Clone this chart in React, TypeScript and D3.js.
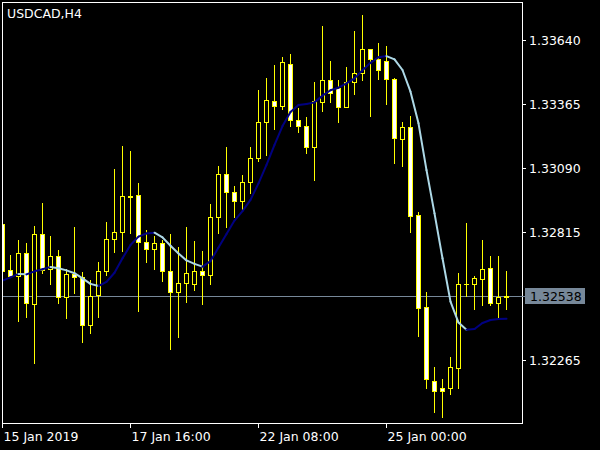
import React from 'react';
import * as d3 from 'd3';

const symbolLabel = 'USDCAD,H4';

const opens = [
  1.32848, 1.32650, 1.32626, 1.32723, 1.32504, 1.32805, 1.32655, 1.32711, 1.32534, 1.32633,
  1.32620, 1.32417, 1.32543, 1.32646, 1.32784, 1.32814, 1.32968, 1.32973, 1.32771, 1.32741,
  1.32766, 1.32646, 1.32556, 1.32595, 1.32593, 1.32647, 1.32629, 1.32878, 1.33063, 1.32988,
  1.32947, 1.33029, 1.33132, 1.33286, 1.33377, 1.33355, 1.33536, 1.33295, 1.33269, 1.33182,
  1.33375, 1.33467, 1.33434, 1.33351, 1.33458, 1.33497, 1.33601, 1.33557, 1.33550, 1.33474,
  1.33216, 1.33265, 1.32888, 1.32493, 1.32175, 1.32143, 1.32143, 1.32232, 1.32592, 1.32590,
  1.32612, 1.32659, 1.32511, 1.32536,
];
const highs = [
  1.32875, 1.32716, 1.32781, 1.32766, 1.32841, 1.32938, 1.32798, 1.32738, 1.32656, 1.32838,
  1.32644, 1.32609, 1.32687, 1.32858, 1.33086, 1.33185, 1.33163, 1.33027, 1.32824, 1.32798,
  1.32781, 1.32805, 1.32749, 1.32835, 1.32778, 1.32733, 1.32935, 1.33099, 1.33180, 1.33013,
  1.33060, 1.33180, 1.33425, 1.33477, 1.33533, 1.33566, 1.33580, 1.33347, 1.33309, 1.33460,
  1.33700, 1.33550, 1.33468, 1.33523, 1.33679, 1.33747, 1.33603, 1.33626, 1.33614, 1.33477,
  1.33288, 1.33313, 1.32901, 1.32557, 1.32234, 1.32183, 1.32278, 1.32639, 1.32852, 1.32626,
  1.32781, 1.32712, 1.32712, 1.32647,
];
const lows = [
  1.32617, 1.32624, 1.32434, 1.32451, 1.32253, 1.32638, 1.32592, 1.32509, 1.32444, 1.32552,
  1.32344, 1.32382, 1.32451, 1.32632, 1.32729, 1.32735, 1.32812, 1.32477, 1.32687, 1.32657,
  1.32606, 1.32311, 1.32365, 1.32516, 1.32566, 1.32506, 1.32592, 1.32812, 1.32838, 1.32881,
  1.32914, 1.32984, 1.33121, 1.33146, 1.33258, 1.33342, 1.33272, 1.33243, 1.33153, 1.33038,
  1.33335, 1.33375, 1.33286, 1.33350, 1.33409, 1.33468, 1.33315, 1.33472, 1.33366, 1.33113,
  1.33099, 1.32816, 1.32368, 1.32146, 1.32043, 1.32021, 1.32119, 1.32146, 1.32540, 1.32485,
  1.32503, 1.32503, 1.32440, 1.32483,
];
const closes = [
  1.32649, 1.32626, 1.32723, 1.32509, 1.32805, 1.32652, 1.32711, 1.32534, 1.32633, 1.32620,
  1.32414, 1.32539, 1.32646, 1.32784, 1.32814, 1.32968, 1.32966, 1.32771, 1.32741, 1.32766,
  1.32646, 1.32556, 1.32595, 1.32638, 1.32646, 1.32629, 1.32878, 1.33063, 1.32988, 1.32947,
  1.33029, 1.33132, 1.33286, 1.33381, 1.33355, 1.33544, 1.33295, 1.33269, 1.33182, 1.33378,
  1.33467, 1.33414, 1.33350, 1.33458, 1.33497, 1.33601, 1.33557, 1.33510, 1.33474, 1.33219,
  1.33265, 1.32885, 1.32490, 1.32182, 1.32132, 1.32132, 1.32234, 1.32590, 1.32591, 1.32616,
  1.32655, 1.32511, 1.32537, 1.32538,
];
const maValues = [
  1.32606, 1.32620, 1.32635, 1.32633, 1.32646, 1.32655, 1.32665, 1.32659, 1.32650, 1.32638,
  1.32616, 1.32592, 1.32583, 1.32601, 1.32640, 1.32702, 1.32759, 1.32795, 1.32809, 1.32812,
  1.32792, 1.32756, 1.32723, 1.32693, 1.32678, 1.32666, 1.32690, 1.32748, 1.32806, 1.32864,
  1.32905, 1.32953, 1.33024, 1.33103, 1.33189, 1.33270, 1.33331, 1.33361, 1.33365, 1.33372,
  1.33401, 1.33424, 1.33435, 1.33454, 1.33475, 1.33510, 1.33542, 1.33566, 1.33571, 1.33557,
  1.33511, 1.33418, 1.33282, 1.33081, 1.32895, 1.32702, 1.32516, 1.32426, 1.32395, 1.32398,
  1.32424, 1.32437, 1.32441, 1.32442,
];
const priceTicks = [1.3364, 1.33365, 1.3309, 1.32815, 1.32265];
const timeTickIndex = [0, 16, 32, 48];
const timeTickLabels = ['15 Jan 2019', '17 Jan 16:00', '22 Jan 08:00', '25 Jan 00:00'];
const lastPrice = 1.32538;

const W = 600;
const H = 450;
const FONT = '"DejaVu Sans", sans-serif';

export default function App() {
  const x = d3.scaleLinear().domain([0, opens.length - 1]).range([2.5, 2.5 + 8 * (opens.length - 1)]);
  const y = d3.scaleLinear().domain([1.32265, 1.3364]).range([360, 40]);
  const py = (v: number) => Math.round(y(v)) + 0.5;

  const line = d3.line<[number, number]>().x((d) => d[0]).y((d) => d[1]);
  const maSegs = maValues.slice(1).map((v, j) => {
    const i = j + 1;
    const rising = v >= maValues[i - 1];
    return {
      d: line([
        [x(i - 1), y(maValues[i - 1])],
        [x(i), y(v)],
      ]) as string,
      color: rising ? '#000080' : '#ADD8E6',
    };
  });

  const lastY = py(lastPrice);

  return (
    <svg
      width={W}
      height={H}
      style={{ position: 'absolute', left: 0, top: 0, display: 'block', background: '#000' }}
      fontFamily={FONT}
    >
      <rect x={0} y={0} width={W} height={H} fill="#000" />
      <defs>
        <clipPath id="plot">
          <rect x={2} y={2} width={520} height={421} />
        </clipPath>
      </defs>
      <g clipPath="url(#plot)">
        <line x1={2} x2={522} y1={lastY} y2={lastY} stroke="#778899" strokeWidth={1} />
        {opens.map((o, i) => {
          const c = closes[i];
          const cx = x(i);
          const top = Math.round(y(Math.max(o, c)));
          const bot = Math.round(y(Math.min(o, c)));
          const bear = o > c;
          return (
            <g key={i}>
              <line
                x1={cx}
                x2={cx}
                y1={Math.round(y(highs[i]))}
                y2={Math.round(y(lows[i])) + 1}
                stroke="#FFFF00"
                strokeWidth={1}
              />
              {bot - top >= 1 ? (
                <rect
                  x={cx - 2}
                  y={top + 0.5}
                  width={4}
                  height={bot - top}
                  fill={bear ? '#FFFFFF' : '#000000'}
                  stroke="#FFFF00"
                  strokeWidth={1}
                />
              ) : (
                <line x1={cx - 2.5} x2={cx + 2.5} y1={top + 0.5} y2={top + 0.5} stroke="#FFFF00" strokeWidth={1} />
              )}
            </g>
          );
        })}
        {maSegs.map((s, i) => (
          <path key={i} d={s.d} stroke={s.color} strokeWidth={2} fill="none" strokeLinecap="round" />
        ))}
      </g>
      <rect x={2.5} y={2.5} width={520} height={421} fill="none" stroke="#FFFFFF" strokeWidth={1} />
      {priceTicks.map((v, i) => (
        <g key={i}>
          <line x1={522} x2={526} y1={py(v)} y2={py(v)} stroke="#FFFFFF" strokeWidth={1} />
          <text x={529} y={py(v) + 4.5} fill="#FFFFFF" fontSize={12.5}>
            {v.toFixed(5)}
          </text>
        </g>
      ))}
      <line x1={522} x2={525} y1={lastY} y2={lastY} stroke="#778899" strokeWidth={1} />
      <rect x={525} y={288} width={60} height={16} fill="#778899" />
      <text x={530} y={lastY + 4.5} fill="#000000" fontSize={12.5}>
        {lastPrice.toFixed(5)}
      </text>
      {timeTickIndex.map((idx, i) => (
        <g key={i}>
          <line x1={x(idx)} x2={x(idx)} y1={423} y2={428} stroke="#FFFFFF" strokeWidth={1} />
          <text x={x(idx) + 1} y={441} fill="#FFFFFF" fontSize={12.5}>
            {timeTickLabels[i]}
          </text>
        </g>
      ))}
      <text x={7} y={18} fill="#FFFFFF" fontSize={12.5}>
        {symbolLabel}
      </text>
    </svg>
  );
}
